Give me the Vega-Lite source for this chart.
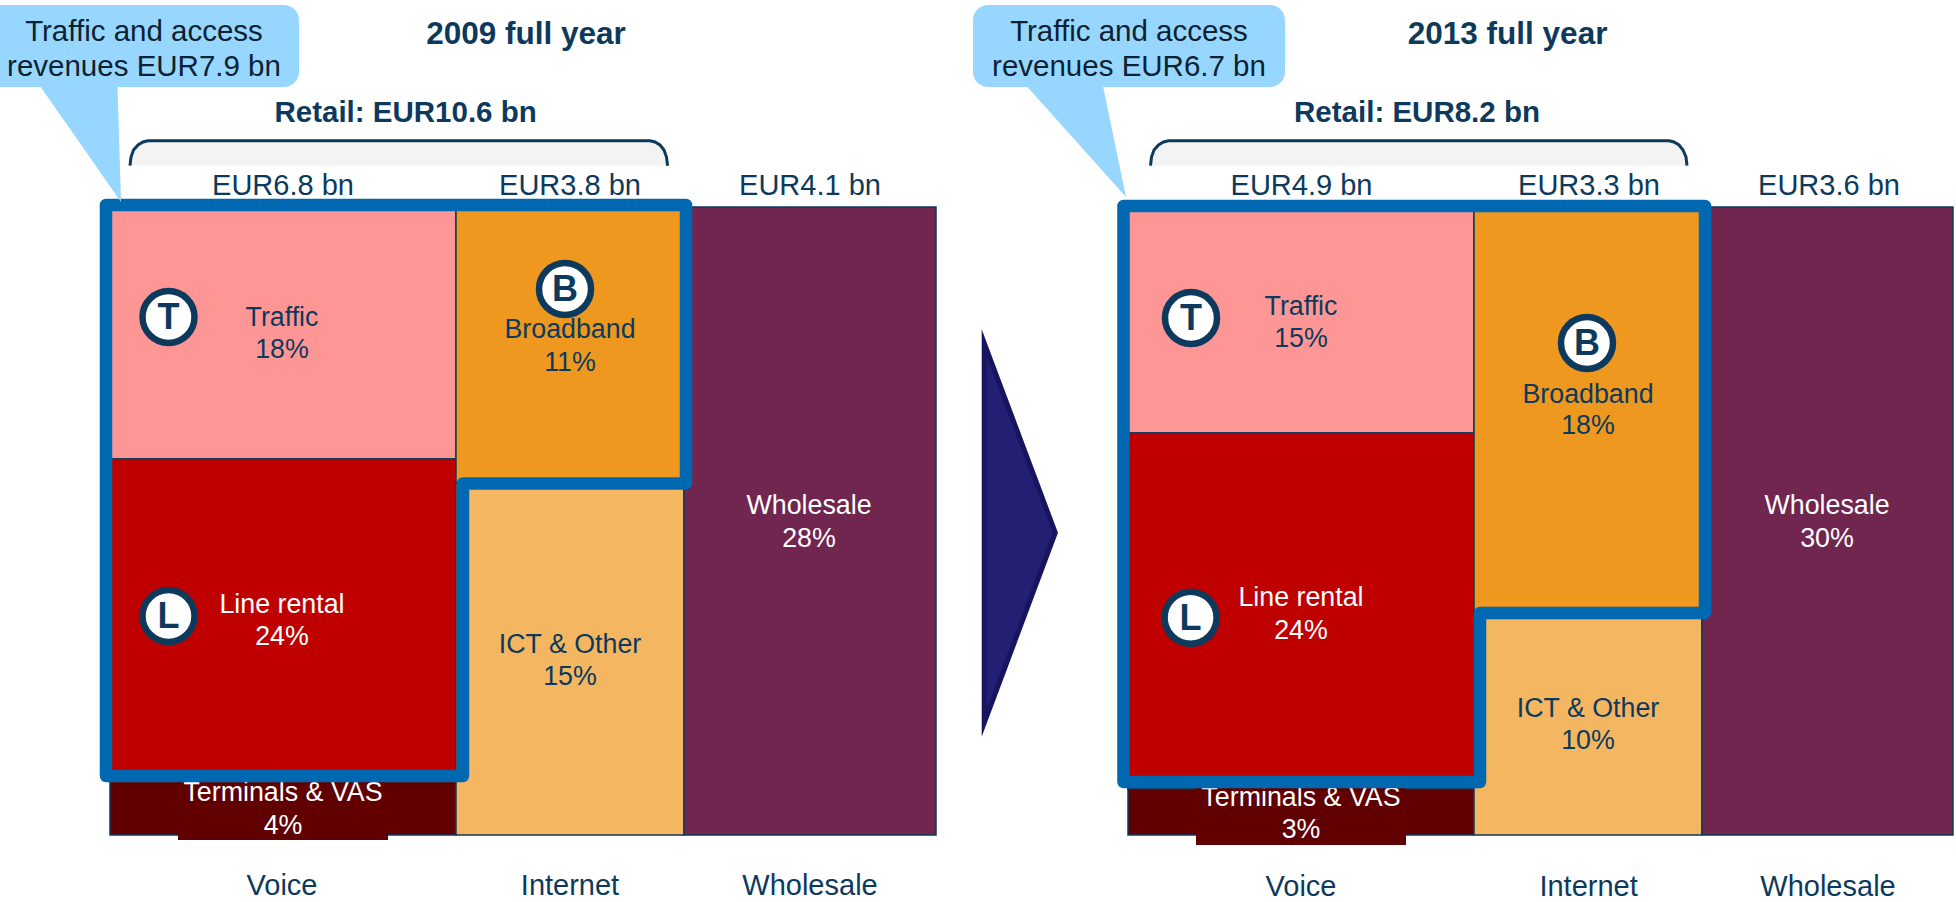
{
"$schema":"https://vega.github.io/schema/vega-lite/v6.json",
"width":1956,"height":902,"padding":0,"autosize":{"type":"none"},"background":"white",
"view":{"stroke":null},
"config":{"text":{"font":"Liberation Sans"},"axis":{"grid":false}},
"datasets":{
"segments":[
{"year":2009,"segment":"Traffic","share":"18%","x0":110,"x1":456,"y0":207,"y1":459,"tx":282,"ty1":318,"ty2":350},
{"year":2009,"segment":"Line rental","share":"24%","x0":110,"x1":456,"y0":459,"y1":778,"tx":282,"ty1":605,"ty2":637},
{"year":2009,"segment":"Terminals & VAS","share":"4%","x0":110,"x1":456,"y0":778,"y1":835,"tx":283,"ty1":793,"ty2":826},
{"year":2009,"segment":"Broadband","share":"11%","x0":456,"x1":684,"y0":207,"y1":483,"tx":570,"ty1":330,"ty2":363},
{"year":2009,"segment":"ICT & Other","share":"15%","x0":456,"x1":684,"y0":483,"y1":835,"tx":570,"ty1":645,"ty2":677},
{"year":2009,"segment":"Wholesale","share":"28%","x0":684,"x1":936,"y0":207,"y1":835,"tx":809,"ty1":506,"ty2":539},
{"year":2013,"segment":"Traffic","share":"15%","x0":1128,"x1":1474,"y0":207,"y1":433,"tx":1301,"ty1":307,"ty2":339},
{"year":2013,"segment":"Line rental","share":"24%","x0":1128,"x1":1474,"y0":433,"y1":789,"tx":1301,"ty1":598,"ty2":631},
{"year":2013,"segment":"Terminals & VAS","share":"3%","x0":1128,"x1":1474,"y0":789,"y1":835,"tx":1301,"ty1":798,"ty2":830},
{"year":2013,"segment":"Broadband","share":"18%","x0":1474,"x1":1702,"y0":207,"y1":613,"tx":1588,"ty1":395,"ty2":426},
{"year":2013,"segment":"ICT & Other","share":"10%","x0":1474,"x1":1702,"y0":613,"y1":835,"tx":1588,"ty1":709,"ty2":741},
{"year":2013,"segment":"Wholesale","share":"30%","x0":1702,"x1":1953,"y0":207,"y1":835,"tx":1827,"ty1":506,"ty2":539}
],
"backing":[
{"year":2009,"x0":178,"x1":388,"y0":781,"y1":840},
{"year":2013,"x0":1196,"x1":1406,"y0":787,"y1":845}
],
"outline":[
{"year":2009,"order":1,"x":106,"y":205},{"year":2009,"order":2,"x":686,"y":205},{"year":2009,"order":3,"x":686,"y":483.5},{"year":2009,"order":4,"x":463,"y":483.5},{"year":2009,"order":5,"x":463,"y":776},{"year":2009,"order":6,"x":106,"y":776},{"year":2009,"order":7,"x":106,"y":205},
{"year":2013,"order":1,"x":1123.5,"y":206},{"year":2013,"order":2,"x":1705,"y":206},{"year":2013,"order":3,"x":1705,"y":613},{"year":2013,"order":4,"x":1480,"y":613},{"year":2013,"order":5,"x":1480,"y":782},{"year":2013,"order":6,"x":1123.5,"y":782},{"year":2013,"order":7,"x":1123.5,"y":206}
],
"brace":[
{"year":2009,"order":1,"x":130,"y":165.7},{"year":2009,"order":2,"x":131,"y":157},{"year":2009,"order":3,"x":133.5,"y":150},{"year":2009,"order":4,"x":138,"y":145},{"year":2009,"order":5,"x":143,"y":142},{"year":2009,"order":6,"x":148,"y":140.7},{"year":2009,"order":7,"x":650,"y":140.7},{"year":2009,"order":8,"x":655,"y":142},{"year":2009,"order":9,"x":660,"y":145},{"year":2009,"order":10,"x":664,"y":150},{"year":2009,"order":11,"x":666.5,"y":157},{"year":2009,"order":12,"x":667.6,"y":165.7},
{"year":2013,"order":1,"x":1150.5,"y":165.7},{"year":2013,"order":2,"x":1151.5,"y":157},{"year":2013,"order":3,"x":1154,"y":150},{"year":2013,"order":4,"x":1158.5,"y":145},{"year":2013,"order":5,"x":1163.5,"y":142},{"year":2013,"order":6,"x":1168.5,"y":140.7},{"year":2013,"order":7,"x":1669,"y":140.7},{"year":2013,"order":8,"x":1674,"y":142},{"year":2013,"order":9,"x":1679,"y":145},{"year":2013,"order":10,"x":1683,"y":150},{"year":2013,"order":11,"x":1686,"y":157},{"year":2013,"order":12,"x":1687,"y":165.7}
],
"callouts":[
{"year":2009,"x0":-20,"x1":299,"y0":5,"y1":87,"tx":144,"ty1":32,"ty2":67,"line1":"Traffic and access","line2":"revenues EUR7.9 bn"},
{"year":2013,"x0":973,"x1":1285,"y0":5,"y1":87,"tx":1129,"ty1":32,"ty2":67,"line1":"Traffic and access","line2":"revenues EUR6.7 bn"}
],
"pointers":[
{"year":2009,"order":1,"x":40,"y":86},{"year":2009,"order":2,"x":117.5,"y":86},{"year":2009,"order":3,"x":121,"y":202},
{"year":2013,"order":1,"x":1026.5,"y":86},{"year":2013,"order":2,"x":1103,"y":86},{"year":2013,"order":3,"x":1126,"y":197}
],
"arrow":[
{"order":1,"x":984.2,"y":533},{"order":2,"x":984.2,"y":343},{"order":3,"x":1055.3,"y":532.7},{"order":4,"x":984.2,"y":723},{"order":5,"x":984.2,"y":533}
],
"titles":[
{"text":"2009 full year","x":526,"y":35},{"text":"2013 full year","x":1507.6,"y":35}
],
"retail":[
{"text":"Retail: EUR10.6 bn","x":405.6,"y":113},{"text":"Retail: EUR8.2 bn","x":1417,"y":113}
],
"captions":[
{"text":"EUR6.8 bn","x":283,"y":186},{"text":"EUR3.8 bn","x":570,"y":186},{"text":"EUR4.1 bn","x":810,"y":186},
{"text":"EUR4.9 bn","x":1301.5,"y":186},{"text":"EUR3.3 bn","x":1589,"y":186},{"text":"EUR3.6 bn","x":1829,"y":186},
{"text":"Voice","x":282,"y":886},{"text":"Internet","x":570,"y":886},{"text":"Wholesale","x":810,"y":886},
{"text":"Voice","x":1301,"y":887},{"text":"Internet","x":1588.6,"y":887},{"text":"Wholesale","x":1828,"y":887}
],
"badges":[
{"letter":"T","x":168.5,"y":317},{"letter":"B","x":565,"y":289},{"letter":"L","x":168.5,"y":616},
{"letter":"T","x":1191,"y":318},{"letter":"B","x":1587,"y":343},{"letter":"L","x":1190.6,"y":617.7}
]
},
"encoding":{
"x":{"type":"quantitative","scale":{"domain":[0,1956],"nice":false,"zero":false},"axis":null},
"y":{"type":"quantitative","scale":{"domain":[902,0],"nice":false,"zero":false},"axis":null}
},
"layer":[
{"data":{"name":"segments"},
 "mark":{"type":"rect","stroke":"#0d3a5c","strokeWidth":1.5},
 "encoding":{
  "x":{"field":"x0","type":"quantitative"},"x2":{"field":"x1"},
  "y":{"field":"y0","type":"quantitative"},"y2":{"field":"y1"},
  "fill":{"field":"segment","type":"nominal","legend":null,"scale":{"domain":["Traffic","Line rental","Terminals & VAS","Broadband","ICT & Other","Wholesale"],"range":["#ff9696","#bf0000","#600000","#ee9820","#f4b661","#70264f"]}}
 }},
{"data":{"name":"backing"},
 "mark":{"type":"rect","fill":"#600000"},
 "encoding":{"x":{"field":"x0","type":"quantitative"},"x2":{"field":"x1"},"y":{"field":"y0","type":"quantitative"},"y2":{"field":"y1"}}},
{"data":{"name":"segments"},
 "transform":[{"filter":{"field":"segment","oneOf":["Traffic","Broadband","ICT & Other"]}}],
 "mark":{"type":"text","fontSize":26.8,"font":"Liberation Sans","color":"#0d3a5c","baseline":"middle"},
 "encoding":{"x":{"field":"tx","type":"quantitative"},"y":{"field":"ty1","type":"quantitative"},"text":{"field":"segment"}}},
{"data":{"name":"segments"},
 "transform":[{"filter":{"field":"segment","oneOf":["Traffic","Broadband","ICT & Other"]}}],
 "mark":{"type":"text","fontSize":26.8,"font":"Liberation Sans","color":"#0d3a5c","baseline":"middle"},
 "encoding":{"x":{"field":"tx","type":"quantitative"},"y":{"field":"ty2","type":"quantitative"},"text":{"field":"share"}}},
{"data":{"name":"segments"},
 "transform":[{"filter":{"field":"segment","oneOf":["Line rental","Terminals & VAS","Wholesale"]}}],
 "mark":{"type":"text","fontSize":26.8,"font":"Liberation Sans","color":"#ffffff","baseline":"middle"},
 "encoding":{"x":{"field":"tx","type":"quantitative"},"y":{"field":"ty1","type":"quantitative"},"text":{"field":"segment"}}},
{"data":{"name":"segments"},
 "transform":[{"filter":{"field":"segment","oneOf":["Line rental","Terminals & VAS","Wholesale"]}}],
 "mark":{"type":"text","fontSize":26.8,"font":"Liberation Sans","color":"#ffffff","baseline":"middle"},
 "encoding":{"x":{"field":"tx","type":"quantitative"},"y":{"field":"ty2","type":"quantitative"},"text":{"field":"share"}}},
{"data":{"name":"outline"},
 "mark":{"type":"line","stroke":"#0067b1","strokeWidth":12.5,"strokeJoin":"round","strokeCap":"round"},
 "encoding":{"x":{"field":"x","type":"quantitative"},"y":{"field":"y","type":"quantitative"},"detail":{"field":"year"},"order":{"field":"order"}}},
{"data":{"name":"brace"},
 "mark":{"type":"line","fill":"#f3f3f3","stroke":"#0d3a5c","strokeWidth":3},
 "encoding":{"x":{"field":"x","type":"quantitative"},"y":{"field":"y","type":"quantitative"},"detail":{"field":"year"},"order":{"field":"order"}}},
{"data":{"name":"pointers"},
 "mark":{"type":"line","fill":"#97d7ff","stroke":null},
 "encoding":{"x":{"field":"x","type":"quantitative"},"y":{"field":"y","type":"quantitative"},"detail":{"field":"year"},"order":{"field":"order"}}},
{"data":{"name":"callouts"},
 "mark":{"type":"rect","fill":"#97d7ff","cornerRadius":15,"clip":true},
 "encoding":{"x":{"field":"x0","type":"quantitative"},"x2":{"field":"x1"},"y":{"field":"y0","type":"quantitative"},"y2":{"field":"y1"}}},
{"data":{"name":"callouts"},
 "mark":{"type":"text","fontSize":29.5,"font":"Liberation Sans","color":"#0b2233","baseline":"middle"},
 "encoding":{"x":{"field":"tx","type":"quantitative"},"y":{"field":"ty1","type":"quantitative"},"text":{"field":"line1"}}},
{"data":{"name":"callouts"},
 "mark":{"type":"text","fontSize":29.5,"font":"Liberation Sans","color":"#0b2233","baseline":"middle"},
 "encoding":{"x":{"field":"tx","type":"quantitative"},"y":{"field":"ty2","type":"quantitative"},"text":{"field":"line2"}}},
{"data":{"name":"arrow"},
 "mark":{"type":"line","fill":"#231f72","stroke":"#18155f","strokeWidth":5,"strokeJoin":"miter","strokeMiterLimit":10},
 "encoding":{"x":{"field":"x","type":"quantitative"},"y":{"field":"y","type":"quantitative"},"order":{"field":"order"}}},
{"data":{"name":"titles"},
 "mark":{"type":"text","fontSize":31.5,"fontWeight":"bold","font":"Liberation Sans","color":"#0d3a5c","baseline":"middle"},
 "encoding":{"x":{"field":"x","type":"quantitative"},"y":{"field":"y","type":"quantitative"},"text":{"field":"text"}}},
{"data":{"name":"retail"},
 "mark":{"type":"text","fontSize":29.5,"fontWeight":"bold","font":"Liberation Sans","color":"#0d3a5c","baseline":"middle"},
 "encoding":{"x":{"field":"x","type":"quantitative"},"y":{"field":"y","type":"quantitative"},"text":{"field":"text"}}},
{"data":{"name":"captions"},
 "mark":{"type":"text","fontSize":29,"font":"Liberation Sans","color":"#0d3a5c","baseline":"middle"},
 "encoding":{"x":{"field":"x","type":"quantitative"},"y":{"field":"y","type":"quantitative"},"text":{"field":"text"}}},
{"data":{"name":"badges"},
 "mark":{"type":"point","shape":"circle","filled":true,"fill":"#ffffff","fillOpacity":1,"stroke":"#0d3a5c","strokeWidth":6.5,"strokeOpacity":1,"size":2704},
 "encoding":{"x":{"field":"x","type":"quantitative"},"y":{"field":"y","type":"quantitative"}}},
{"data":{"name":"badges"},
 "mark":{"type":"text","fontSize":36,"fontWeight":"bold","font":"Liberation Sans","color":"#0d3a5c","baseline":"middle","dy":1},
 "encoding":{"x":{"field":"x","type":"quantitative"},"y":{"field":"y","type":"quantitative"},"text":{"field":"letter"}}}
]
}
